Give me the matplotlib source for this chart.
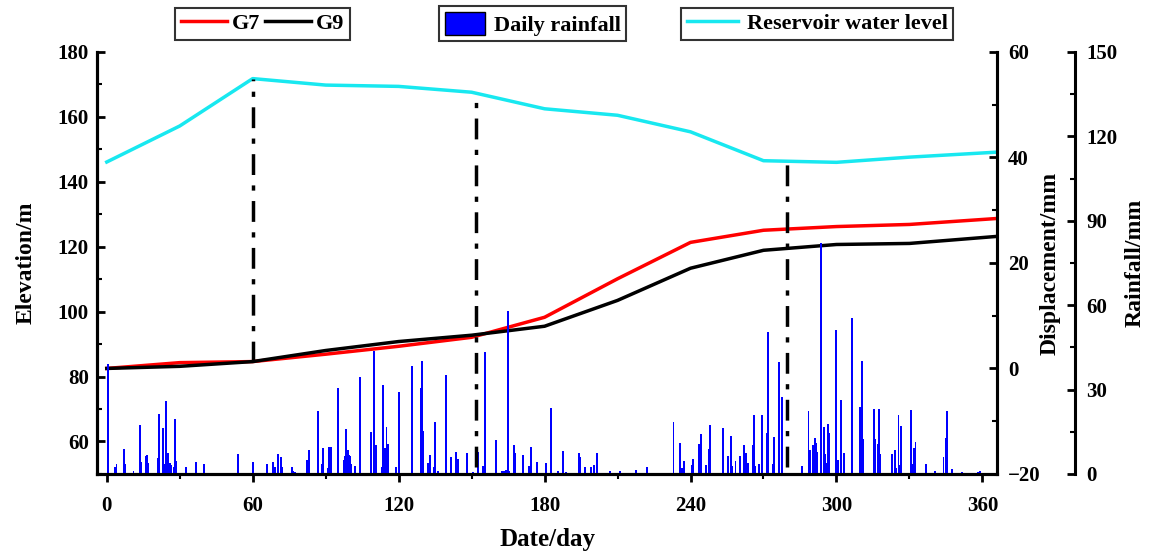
import matplotlib.pyplot as plt
from matplotlib.ticker import MultipleLocator
from matplotlib.lines import Line2D
from matplotlib.patches import Patch

plt.rcParams["font.family"] = ["Liberation Serif", "DejaVu Serif"]
plt.rcParams["font.weight"] = "bold"

# reservoir water level (elevation, m)
level_days = [0, 30, 60, 90, 120, 150, 180, 210, 240, 270, 300, 330, 365]
level = [146.1, 157.2, 171.8, 169.8, 169.4, 167.6, 162.5, 160.5, 155.4, 146.5, 146.0, 147.6, 149.1]

# displacement of monitoring points (mm)
disp_days = [0, 30, 60, 90, 120, 150, 180, 210, 240, 270, 300, 330, 365]
g7 = [0.0, 1.1, 1.3, 2.7, 4.2, 5.9, 9.7, 17.0, 23.9, 26.2, 26.9, 27.3, 28.4]
g9 = [0.0, 0.4, 1.3, 3.4, 5.1, 6.3, 8.0, 12.9, 19.0, 22.4, 23.5, 23.7, 25.0]

# daily rainfall (mm)
rain_days = [
    0.5, 3.5, 4, 7, 7.5, 11, 13.5, 14, 16, 16.5, 17, 21, 21.5, 23, 23.5, 24.5, 25, 26,
    26.5, 27.5, 28, 28.5, 32.5, 36.5, 40, 54, 60, 66, 68.5, 69, 70.5, 71.5, 72, 76,
    76.5, 77.5, 82.5, 83, 87, 88.5, 89, 91, 91.5, 92, 95, 97.5, 98, 98.5, 99, 99.5,
    100, 100.5, 102, 104, 108.5, 110, 110.5, 113, 113.5, 114, 114.5, 115, 115.5, 119,
    120, 125.5, 129, 129.5, 130, 132, 133, 134.5, 135, 136, 139.5, 141.5, 143.5, 144,
    144.5, 148, 150.5, 152.5, 154.5, 155.5, 160, 162.5, 163.5, 164, 165, 165.5, 167.5,
    168, 171, 173.5, 174.5, 177, 180.5, 182.5, 185.5, 187.5, 189, 194, 194.5, 196.5,
    199, 200.5, 201.5, 207, 211, 217.5, 222, 226.5, 233, 235.5, 236.5, 237.5, 240.5,
    241, 243.5, 244.5, 246.5, 247.5, 248, 253.5, 255.5, 256.5, 257, 258.5, 260.5, 262,
    263, 263.5, 265.5, 266, 266.5, 268, 269.5, 271.5, 272, 274, 274.5, 276.5, 277.5,
    286, 288.5, 289, 290.5, 291, 291.5, 292, 293.5, 295, 295.5, 296, 296.5, 297, 300,
    300.5, 302, 303, 306.5, 309.5, 310, 310.5, 311, 315.5, 316, 317, 317.5, 318, 323,
    324, 324.5, 325.5, 326, 326.5, 330.5, 331.5, 332, 332.5, 337, 340.5, 344, 345,
    345.5, 347.5, 351.5, 358, 359,
]
rain = [
    39, 2.6, 3.5, 8.8, 3.5, 1.2, 17.4, 4.2, 6.4, 6.6, 3.8, 5.8, 21.3, 16.5, 3.5, 26, 7.3, 4,
    3.2, 2.6, 19.4, 4.7, 2.3, 4.1, 3.5, 7.1, 4.4, 3.5, 4.1, 2.5, 7, 5.9, 2.5, 2.3,
    1, 0.7, 5, 8.5, 22.4, 3.5, 9.1, 2, 9.4, 9.7, 30.5, 5, 6.2, 16.1, 8.5, 6.7,
    6.4, 3.5, 2.8, 34.6, 15, 43.8, 10.3, 2.5, 31.6, 6.7, 9.1, 16.6, 10.5, 2.5,
    29.3, 38.5, 30.5, 40, 15.4, 4, 6.6, 2.4, 18.6, 1, 35.2, 5.9, 7.9, 3,
    5.2, 7.6, 0.8, 7.7, 2.8, 43.5, 12, 1, 1, 1.5, 58, 1, 10.4,
    7.6, 6.6, 2.8, 9.5, 4.4, 3.8, 23.5, 1, 8.2, 0.7, 7.5, 5.9, 2.4,
    2.3, 3, 7.6, 1, 1.2, 1.4, 2.3, 0.3, 18.5, 10.9, 2.2, 4.6, 3.3,
    5.4, 10.7, 14.2, 3.3, 8.8, 17.4, 16.2, 6.2, 13.5, 2.9, 4.7, 6.2, 10.3,
    7.3, 3.8, 10.3, 21, 2.9, 3.6, 21, 14.5, 50.4, 3.5, 13, 39.9, 27.3,
    2.9, 22.4, 8.5, 10.3, 12.7, 11.1, 7.8, 82.2, 16.6, 7, 3.8, 17.8, 14.5, 51.2,
    5, 26.3, 7.3, 55.3, 23.7, 15.3, 40.2, 12.3, 23, 12.3, 10.7, 23, 7, 7,
    8.5, 2, 21, 3.2, 17, 22.7, 3.4, 9.2, 11.5, 3.6, 1, 5.9, 12.9,
    22.4, 1.6, 0.6, 0.8, 1,
]

# dash-dot marker lines (day, top elevation, bottom elevation)
mark_days = [60, 152, 279.5]
mark_top = [171.8, 167.3, 146.3]
mark_bottom = [84.5, 52, 52]

fig = plt.figure(figsize=(11.51, 5.53), dpi=100)
ax = fig.add_axes([0.0843, 0.143, 0.7819, 0.763])
ax_d = ax.twinx()
ax_r = ax.twinx()
ax_r.spines["right"].set_position(("axes", 1.087))

ax_r.bar(rain_days, rain, width=0.8, color="blue", zorder=1)
ax_d.plot(disp_days, g7, color="red", lw=2.5)
ax_d.plot(disp_days, g9, color="black", lw=2.5)
ax.plot(level_days, level, color="#18e8f0", lw=2.5)
for d, t, b in zip(mark_days, mark_top, mark_bottom):
    ax_r.plot([d, d], [(b - 50) / 130 * 150, (t - 50) / 130 * 150],
              color="black", lw=2.5, ls=(0, (6, 3, 1.5, 3)), zorder=3)

ax.set_xlim(-4, 366)
ax.set_ylim(50, 180)
ax_d.set_ylim(-20, 60)
ax_r.set_ylim(0, 150)

ax.xaxis.set_major_locator(MultipleLocator(60))
ax.xaxis.set_minor_locator(MultipleLocator(30))
ax.yaxis.set_major_locator(MultipleLocator(20))
ax.yaxis.set_minor_locator(MultipleLocator(10))
ax_d.yaxis.set_major_locator(MultipleLocator(20))
ax_d.yaxis.set_minor_locator(MultipleLocator(10))
ax_r.yaxis.set_major_locator(MultipleLocator(30))
ax_r.yaxis.set_minor_locator(MultipleLocator(15))

for a in (ax, ax_d, ax_r):
    for s in a.spines.values():
        s.set_linewidth(2.2)
    a.spines["top"].set_visible(False)
    a.tick_params(labelsize=15, width=2, length=6, pad=6)
    a.tick_params(which="minor", width=1.5, length=3.5)
ax.tick_params(axis="y", direction="in", which="both")
ax_d.tick_params(axis="y", direction="in", which="both", pad=8)
ax_r.tick_params(axis="y", direction="in", which="both", pad=8)
ax.tick_params(axis="x", direction="out", which="both", pad=10)

ax.set_xlabel("Date/day", fontsize=18, fontweight="bold")
ax.set_ylabel("Elevation/m", fontsize=17, fontweight="bold")
ax_d.set_ylabel("Displacement/mm", fontsize=17, fontweight="bold")
ax_r.set_ylabel("Rainfall/mm", fontsize=17, fontweight="bold")
ax.xaxis.set_label_coords(0.5, -0.128)
ax.yaxis.set_label_coords(-0.067, 0.5)
ax_d.yaxis.set_label_coords(1.047, 0.5)
ax_r.yaxis.set_label_coords(1.142, 0.5)

leg_kw = dict(frameon=True, fancybox=False, edgecolor="black",
              prop={"weight": "bold", "size": 16})
l1 = fig.legend([Line2D([], [], color="red", lw=2.5), Line2D([], [], color="black", lw=2.5)],
                ["G7", "G9"], loc="center", bbox_to_anchor=(0.228, 0.957), ncol=2,
                handlelength=2.1, columnspacing=0.2, handletextpad=0.2, borderpad=0.25,
                **leg_kw)
l2 = fig.legend([Patch(facecolor="blue", edgecolor="black")], ["Daily rainfall"],
                loc="center", bbox_to_anchor=(0.463, 0.957), handlelength=1.8,
                handleheight=1.2, handletextpad=0.4, borderpad=0.25, **leg_kw)
l3 = fig.legend([Line2D([], [], color="#18e8f0", lw=2.5)], ["Reservoir water level"],
                loc="center", bbox_to_anchor=(0.71, 0.957), handlelength=2.3,
                handletextpad=0.4, borderpad=0.25, **leg_kw)
for lg in (l1, l2, l3):
    lg.get_frame().set_linewidth(1.5)

fig.savefig("out.png", dpi=100)
